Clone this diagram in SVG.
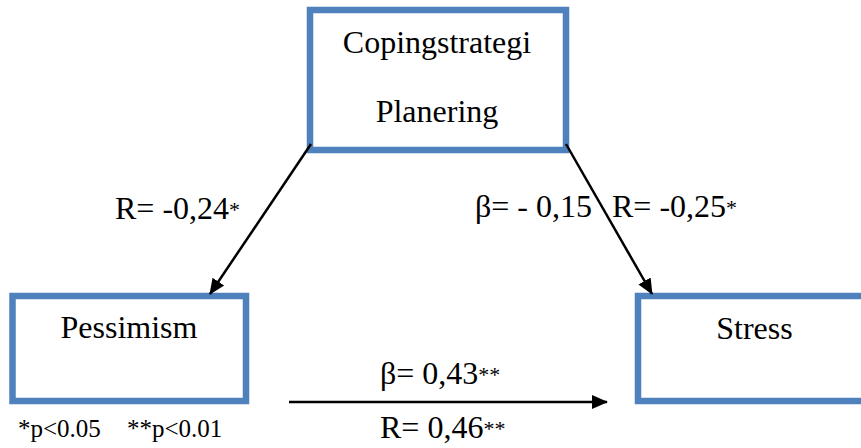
<svg xmlns="http://www.w3.org/2000/svg" width="861" height="448" viewBox="0 0 861 448">
<defs>
<style>
.box{fill:#fff;stroke:#4f81bd;stroke-width:6.5}
.t{font-size:32px}
.c{text-anchor:middle}
.s{font-size:22px}
.f{font-size:25px}
.ln{stroke:#000;stroke-width:2.5;fill:none}
</style>
<marker id="ah" viewBox="0 0 16 16" refX="15" refY="8" markerWidth="16" markerHeight="16" markerUnits="userSpaceOnUse" orient="auto">
<path d="M0,1 L16,8 L0,15 z" fill="#000"/>
</marker>
</defs>
<rect width="861" height="448" fill="#fff"/>
<g font-family="Liberation Serif, Times New Roman, serif" fill="#000">
<g id="node-coping">
<rect class="box" x="310" y="10" width="256" height="140"/>
<text class="t c" x="437" y="53">Copingstrategi</text>
<text class="t c" x="437" y="122">Planering</text>
</g>
<g id="node-pessimism">
<rect class="box" x="12.5" y="296" width="233.5" height="105"/>
<text class="t c" x="129" y="338">Pessimism</text>
</g>
<g id="node-stress">
<rect class="box" x="638" y="296" width="240" height="105"/>
<text class="t c" x="754.5" y="339">Stress</text>
</g>
<g id="connectors">
<line class="ln" x1="311" y1="144" x2="210" y2="294" marker-end="url(#ah)"/>
<line class="ln" x1="566" y1="144" x2="652" y2="294" marker-end="url(#ah)"/>
<line class="ln" x1="289" y1="402" x2="607" y2="402" marker-end="url(#ah)"/>
</g>
<g id="labels">
<text class="t" x="115" y="219">R= -0,24<tspan class="s" dy="-2">*</tspan></text>
<text class="t" x="475" y="217">β= - 0,15</text>
<text class="t" x="612" y="217">R= -0,25<tspan class="s" dy="-2">*</tspan></text>
<text class="t" x="380" y="384">β= 0,43<tspan class="s" dy="-2">**</tspan></text>
<text class="t" x="380" y="438">R= 0,46<tspan class="s" dy="-2">**</tspan></text>
<text class="f" x="18" y="437">*p&lt;0.05<tspan x="127">**p&lt;0.01</tspan></text>
</g>
</g>
</svg>
